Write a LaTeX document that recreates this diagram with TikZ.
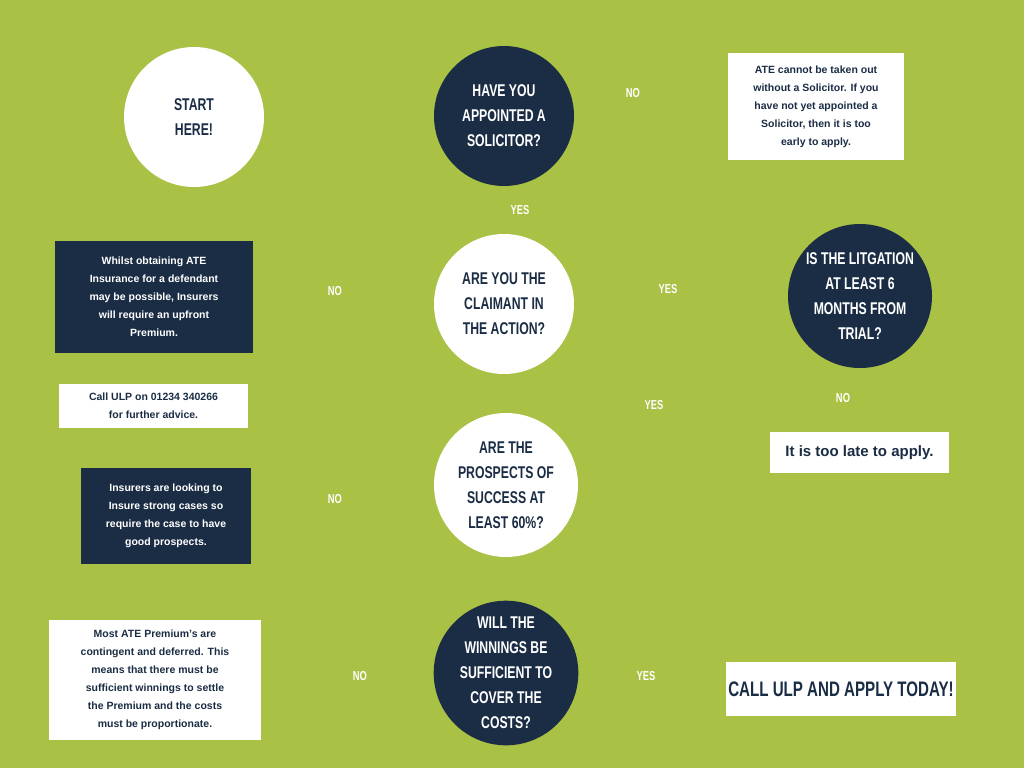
\documentclass[tikz,border=0pt]{standalone}
\usepackage{fontspec}
\setmainfont{Liberation Sans}
\newfontfamily\condf[FakeStretch=0.72]{Liberation Sans}
\usetikzlibrary{backgrounds}
\definecolor{bg}{HTML}{A9C144}
\definecolor{navy}{HTML}{1B2D45}
\tikzset{x=1pt,y=-1pt,
 circ/.style={circle,minimum size=#1,inner sep=0pt,align=center,font=\condf\bfseries\fontsize{17}{25}\selectfont},
 wc/.style={circ=#1,fill=white,text=navy},
 dc/.style={circ=#1,fill=navy,text=white},
 wb/.style={fill=white,text=navy,inner sep=0pt,align=center,font=\bfseries\fontsize{10.5}{18}\selectfont},
 db/.style={fill=navy,text=white,inner sep=0pt,align=center,font=\bfseries\fontsize{10.5}{18}\selectfont},
 ln/.style={navy,line width=3pt},
 lab/.style={text=white,font=\condf\bfseries\fontsize{13}{15}\selectfont}}
\begin{document}
\begin{tikzpicture}
\fill[bg] (0,0) rectangle (1024,768);
\useasboundingbox (0,0) rectangle (1024,768);
\node[wc=140] (start) at (194,117) {START\\HERE!};
\node[dc=140] (have) at (504,116) {HAVE YOU\\APPOINTED A\\SOLICITOR?};
\node[wc=140] (claim) at (504,304) {ARE YOU THE\\CLAIMANT IN\\THE ACTION?};
\node[dc=144] (lit) at (860,296) {IS THE LITGATION\\AT LEAST 6\\MONTHS FROM\\TRIAL?};
\node[wc=144] (pros) at (506,485) {ARE THE\\PROSPECTS OF\\SUCCESS AT\\LEAST 60\%?};
\node[dc=144] (win) at (506,673) {WILL THE\\WINNINGS BE\\SUFFICIENT TO\\COVER THE\\COSTS?};
\node[wb,minimum width=176,minimum height=107] (ate) at (816,106.5) {ATE cannot be taken out\\without a Solicitor. If you\\have not yet appointed a\\Solicitor, then it is too\\early to apply.};
\node[db,minimum width=198,minimum height=112] (whilst) at (154,297) {Whilst obtaining ATE\\Insurance for a defendant\\may be possible, Insurers\\will require an upfront\\Premium.};
\node[wb,minimum width=189,minimum height=44] (call) at (153.5,406) {Call ULP on 01234 340266\\for further advice.};
\node[wb,minimum width=179,minimum height=41,font=\bfseries\fontsize{15}{18}\selectfont] (late) at (859.5,452.5) {It is too late to apply.};
\node[db,minimum width=170,minimum height=96] (ins) at (166,516) {Insurers are looking to\\Insure strong cases so\\require the case to have\\good prospects.};
\node[wb,minimum width=212,minimum height=120] (most) at (155,680) {Most ATE Premium's are\\contingent and deferred. This\\means that there must be\\sufficient winnings to settle\\the Premium and the costs\\must be proportionate.};
\node[wb,minimum width=230,minimum height=54,font=\condf\bfseries\fontsize{21}{25}\selectfont] (apply) at (841,689) {CALL ULP AND APPLY TODAY!};
\begin{scope}[on background layer]
\fill[bg] (0,0) rectangle (1024,768);
\draw[ln] (start.center) -- (have.center);
\draw[ln] (ate.west) -- (ate.west -| have.center);
\draw[ln] (have) -- (claim);
\draw[ln] (claim.center) -- (claim.center -| whilst.east);
\draw[ln] (claim.center) -- (claim.center -| lit.center);
\draw[ln] (lit.center) -- (pros.center);
\draw[ln] (lit.center) -- (late.north -| lit.center);
\draw[ln] (whilst.south -| 148,0) -- (call.north -| 148,0);
\draw[ln] (pros.center) -- (pros.center -| ins.east);
\draw[ln] (pros) -- (win);
\draw[ln] (win.center) -- (most.east |- 0,691);
\draw[ln] (win.center |- apply.west) -- (apply.west);
\end{scope}
\node[lab] (l1) at (633,93) {NO};
\node[lab] (l2) at (520,210) {YES};
\node[lab] (l3) at (335,291) {NO};
\node[lab] (l4) at (668,289) {YES};
\node[lab] (l5) at (654,405) {YES};
\node[lab] (l6) at (843,398) {NO};
\node[lab] (l7) at (335,499) {NO};
\node[lab] (l8) at (360,676) {NO};
\node[lab] (l9) at (646,676) {YES};
\end{tikzpicture}
\end{document}
